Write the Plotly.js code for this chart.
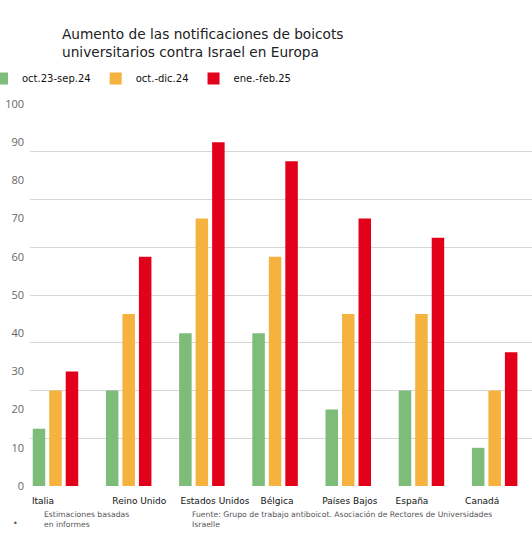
<!DOCTYPE html>
<html>
<head>
<meta charset="utf-8">
<script src="https://cdn.plot.ly/plotly-3.0.1.min.js"></script>
<style>html,body{margin:0;padding:0;background:#fff;}#chart{width:532px;height:550px;}</style>
</head>
<body>
<div id="chart"></div>
<script>
const categories = ["Italia", "Reino Unido", "Estados Unidos", "Bélgica", "Países Bajos", "España", "Canadá"];
const seriesNames = ["oct.23-sep.24", "oct.-dic.24", "ene.-feb.25"];
const valuesOct23Sep24 = [15, 25, 40, 40, 20, 25, 10];
const valuesOctDic24 = [25, 45, 70, 60, 45, 45, 25];
const valuesEneFeb25 = [30, 60, 90, 85, 70, 65, 35];
const yTickValues = [0, 10, 20, 30, 40, 50, 60, 70, 80, 90, 100];
const titleText = "Aumento de las notificaciones de boicots<br>universitarios contra Israel en Europa";
const noteText = "Estimaciones basadas<br>en informes";
const sourceText = "Fuente: Grupo de trabajo antiboicot. Asociación de Rectores de Universidades<br>Israelle";

const colors = ["#7dbc79", "#f5b23e", "#e2001a"];
const seriesValues = [valuesOct23Sep24, valuesOctDic24, valuesEneFeb25];
// the source image places its category labels slightly off-centre
const labelShift = [-0.17, 0.145, 0.178, 0.027, 0.02, -0.13, -0.17];

const traces = seriesValues.map((vals, i) => ({
  type: "bar",
  name: seriesNames[i],
  x: categories,
  y: vals,
  marker: {color: colors[i], line: {width: 0}},
  hoverinfo: "skip"
}));
// invisible helper trace that carries the label axis and the gridline axis
traces.push({type: "scatter", mode: "markers", x: [0], y: [0], xaxis: "x2", yaxis: "y2",
  marker: {opacity: 0, size: 1}, showlegend: false, hoverinfo: "skip"});

const xRange = [-0.348, 6.51];

const layout = {
  width: 532, height: 550,
  margin: {l: 30, r: 0, t: 104, b: 64, pad: 0, autoexpand: false},
  paper_bgcolor: "#fff", plot_bgcolor: "rgba(0,0,0,0)",
  font: {family: "DejaVu Sans", color: "#222"},
  title: {text: titleText, x: 62/532, xanchor: "left", xref: "container",
    y: 1 - 39/550, yanchor: "top", yref: "container",
    font: {family: "DejaVu Sans", size: 13.7, color: "#222"}},
  barmode: "group", bargap: 0.324, bargroupgap: 0.242,
  showlegend: true,
  legend: {orientation: "h", xref: "paper", x: (-18-30)/502, xanchor: "left",
    yref: "paper", y: (486-78.5)/382, yanchor: "middle",
    font: {family: "DejaVu Sans", size: 10, color: "#111"}, bgcolor: "rgba(0,0,0,0)",
    traceorder: "normal"},
  xaxis: {type: "category", range: xRange, showgrid: false, zeroline: false,
    showline: false, ticks: "", showticklabels: false},
  xaxis2: {type: "linear", overlaying: "x", anchor: "y", side: "bottom", range: xRange,
    tickvals: categories.map((c, i) => i + labelShift[i]), ticktext: categories,
    showgrid: false, zeroline: false, showline: false, ticks: "", ticklabelstandoff: 8,
    tickfont: {family: "DejaVu Sans", size: 9, color: "#111"}},
  yaxis: {range: [0, 100], tickvals: yTickValues, ticktext: yTickValues.map(String),
    showgrid: false, zeroline: false, showline: false, ticks: "", ticklabelstandoff: 5,
    tickfont: {family: "Open Sans", size: 11, color: "#666"}},
  yaxis2: {range: [0, 100], overlaying: "y", anchor: "x", side: "left", dtick: 12.5, tick0: 0,
    showgrid: true, gridcolor: "#d6d6d6", gridwidth: 1, showticklabels: false,
    zeroline: false, ticks: "", showline: false},
  annotations: [
    {text: "•", xref: "paper", yref: "paper", x: (15-30)/502, y: (486-523)/382,
      xanchor: "center", yanchor: "middle", showarrow: false,
      font: {family: "DejaVu Sans", size: 8, color: "#555"}},
    {text: noteText, xref: "paper", yref: "paper", x: (42-30)/502, y: (486-508)/382,
      xanchor: "left", yanchor: "top", align: "left", showarrow: false,
      font: {family: "DejaVu Sans", size: 7.7, color: "#555"}},
    {text: sourceText, xref: "paper", yref: "paper", x: (190-30)/502, y: (486-508)/382,
      xanchor: "left", yanchor: "top", align: "left", showarrow: false,
      font: {family: "DejaVu Sans", size: 7.7, color: "#555"}}
  ]
};

Plotly.newPlot("chart", traces, layout, {displayModeBar: false, staticPlot: true});
</script>
</body>
</html>
